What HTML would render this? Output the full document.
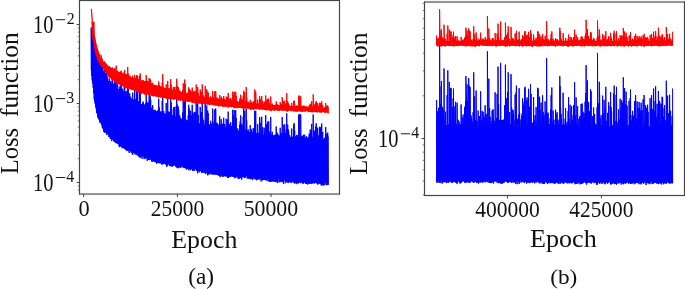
<!DOCTYPE html><html><head><meta charset="utf-8"><title>Loss function vs epoch</title><style>html,body{margin:0;padding:0;background:#fff;}svg{display:block;will-change:transform;}</style></head><body><svg width="685" height="289" viewBox="0 0 685 289">
<rect width="685" height="289" fill="#fff"/>
<path d="M91.20,69.99 91.20,27.52 91.70,76.02 91.70,30.76 92.20,80.41 92.20,31.00 92.70,83.68 92.70,36.50 93.20,87.88 93.20,39.00 93.70,93.21 93.70,41.50 94.20,99.20 94.20,44.00 94.70,101.95 94.70,46.67 95.20,104.00 95.20,49.44 95.70,107.12 95.70,52.22 96.20,109.14 96.20,55.00 96.70,112.89 96.70,56.20 97.20,113.72 97.20,57.39 97.70,116.82 97.70,58.59 98.20,118.38 98.20,59.78 98.70,119.03 98.70,60.83 99.20,119.78 99.20,61.64 99.70,122.45 99.70,62.46 100.20,122.04 100.20,63.27 100.70,122.22 100.70,64.09 101.20,123.76 101.20,64.91 101.70,124.91 101.70,67.13 102.20,127.42 102.20,66.54 102.70,128.24 102.70,69.17 103.20,128.98 103.20,70.70 103.70,131.72 103.70,71.78 104.20,130.47 104.20,72.17 104.70,132.64 104.70,70.20 105.20,132.28 105.20,74.73 105.70,132.47 105.70,73.02 106.20,132.77 106.20,73.29 106.70,134.94 106.70,76.97 107.20,133.44 107.20,76.52 107.70,133.08 107.70,80.11 108.20,134.69 108.20,81.15 108.70,136.67 108.70,81.77 109.20,134.93 109.20,78.18 109.70,136.78 109.70,81.56 110.20,138.60 110.20,82.76 110.70,138.99 110.70,80.97 111.20,138.93 111.20,82.79 111.70,141.20 111.70,84.27 112.20,139.26 112.20,78.63 112.70,139.53 112.70,81.14 113.20,138.25 113.20,85.96 113.70,140.96 113.70,83.95 114.20,142.00 114.20,84.98 114.70,141.15 114.70,80.53 115.20,141.73 115.20,82.90 115.70,142.94 115.70,88.17 116.20,143.35 116.20,81.67 116.70,142.91 116.70,89.70 117.20,143.10 117.20,88.73 117.70,143.76 117.70,84.41 118.20,142.03 118.20,90.70 118.70,144.54 118.70,89.12 119.20,146.60 119.20,91.55 119.70,147.17 119.70,87.47 120.20,144.02 120.20,85.84 120.70,146.29 120.70,89.53 121.20,146.50 121.20,84.33 121.70,146.32 121.70,92.43 122.20,148.25 122.20,88.64 122.70,146.93 122.70,90.58 123.20,148.01 123.20,91.10 123.70,148.25 123.70,92.77 124.20,147.45 124.20,86.21 124.70,148.90 124.70,86.06 125.20,148.97 125.20,93.59 125.70,149.97 125.70,91.40 126.20,149.27 126.20,96.15 126.70,150.77 126.70,91.22 127.20,150.30 127.20,92.46 127.70,150.44 127.70,87.39 128.20,150.72 128.20,88.86 128.70,149.03 128.70,96.88 129.20,152.82 129.20,96.52 129.70,152.95 129.70,93.38 130.20,151.11 130.20,98.44 130.70,149.73 130.70,96.69 131.20,151.81 131.20,98.76 131.70,153.21 131.70,99.17 132.20,149.63 132.20,99.55 132.70,155.01 132.70,92.67 133.20,152.14 133.20,99.99 133.70,152.66 133.70,99.86 134.20,152.67 134.20,99.23 134.70,153.96 134.70,89.93 135.20,154.28 135.20,101.22 135.70,154.20 135.70,99.54 136.20,154.70 136.20,98.65 136.70,153.80 136.70,90.56 137.20,155.42 137.20,93.27 137.70,154.65 137.70,91.68 138.20,155.06 138.20,102.22 138.70,156.59 138.70,101.50 139.20,155.98 139.20,102.25 139.70,156.74 139.70,91.62 140.20,158.06 140.20,91.79 140.70,155.71 140.70,104.13 141.20,156.98 141.20,104.29 141.70,155.32 141.70,104.31 142.20,158.84 142.20,104.55 142.70,155.75 142.70,102.78 143.20,155.64 143.20,101.58 143.70,156.85 143.70,105.14 144.20,159.06 144.20,106.10 144.70,158.19 144.70,104.45 145.20,156.28 145.20,105.14 145.70,158.55 145.70,103.10 146.20,157.72 146.20,93.35 146.70,157.75 146.70,101.23 147.20,160.76 147.20,104.53 147.70,159.45 147.70,103.17 148.20,159.72 148.20,102.23 148.70,159.92 148.70,108.32 149.20,158.82 149.20,94.46 149.70,160.17 149.70,100.11 150.20,159.46 150.20,96.36 150.70,157.09 150.70,99.93 151.20,159.91 151.20,107.85 151.70,161.63 151.70,108.03 152.20,159.95 152.20,109.95 152.70,161.74 152.70,105.04 153.20,160.23 153.20,110.37 153.70,161.26 153.70,110.53 154.20,161.42 154.20,110.27 154.70,161.79 154.70,110.63 155.20,162.31 155.20,109.75 155.70,160.82 155.70,111.24 156.20,162.01 156.20,111.44 156.70,163.88 156.70,111.35 157.20,162.97 157.20,111.67 157.70,161.98 157.70,110.38 158.20,162.56 158.20,112.12 158.70,162.77 158.70,98.74 159.20,163.17 159.20,107.40 159.70,163.03 159.70,112.39 160.20,163.29 160.20,112.06 160.70,163.20 160.70,111.52 161.20,162.87 161.20,111.53 161.70,164.37 161.70,113.16 162.20,164.47 162.20,100.98 162.70,162.25 162.70,97.03 163.20,162.59 163.20,111.04 163.70,164.14 163.70,110.96 164.20,162.77 164.20,114.10 164.70,163.72 164.70,114.24 165.20,163.81 165.20,113.05 165.70,164.44 165.70,113.83 166.20,163.82 166.20,102.98 166.70,166.98 166.70,114.73 167.20,165.37 167.20,115.22 167.70,165.51 167.70,98.00 168.20,163.43 168.20,111.72 168.70,163.44 168.70,115.44 169.20,165.15 169.20,111.74 169.70,165.84 169.70,116.01 170.20,165.17 170.20,112.28 170.70,166.26 170.70,98.40 171.20,162.99 171.20,102.42 171.70,166.25 171.70,109.07 172.20,166.69 172.20,115.89 172.70,163.95 172.70,115.13 173.20,165.94 173.20,116.73 173.70,165.81 173.70,107.16 174.20,165.33 174.20,113.32 174.70,163.90 174.70,107.14 175.20,164.73 175.20,116.24 175.70,166.36 175.70,117.20 176.20,167.22 176.20,106.27 176.70,166.31 176.70,99.11 177.20,168.08 177.20,104.58 177.70,165.66 177.70,106.98 178.20,168.23 178.20,106.60 178.70,164.56 178.70,109.77 179.20,166.76 179.20,118.25 179.70,167.33 179.70,115.26 180.20,167.63 180.20,117.53 180.70,168.06 180.70,119.38 181.20,166.18 181.20,119.53 181.70,165.11 181.70,118.66 182.20,167.13 182.20,118.96 182.70,166.07 182.70,112.44 183.20,167.71 183.20,100.01 183.70,166.61 183.70,117.54 184.20,167.56 184.20,100.42 184.70,167.85 184.70,100.24 185.20,168.19 185.20,100.32 185.70,167.44 185.70,118.99 186.20,169.53 186.20,120.26 186.70,167.68 186.70,120.33 187.20,168.31 187.20,120.61 187.70,169.09 187.70,120.69 188.20,168.69 188.20,115.49 188.70,170.24 188.70,104.76 189.20,168.77 189.20,108.55 189.70,168.57 189.70,118.46 190.20,170.25 190.20,115.27 190.70,169.78 190.70,110.75 191.20,168.51 191.20,121.93 191.70,168.98 191.70,115.42 192.20,169.81 192.20,104.81 192.70,171.04 192.70,111.89 193.20,170.65 193.20,113.16 193.70,169.97 193.70,119.38 194.20,167.58 194.20,122.28 194.70,170.76 194.70,112.08 195.20,168.97 195.20,121.44 195.70,168.72 195.70,111.83 196.20,169.75 196.20,102.06 196.70,170.69 196.70,121.12 197.20,170.74 197.20,121.17 197.70,173.34 197.70,102.30 198.20,170.66 198.20,115.11 198.70,170.18 198.70,123.33 199.20,172.27 199.20,123.61 199.70,171.36 199.70,123.64 200.20,170.83 200.20,107.00 200.70,170.48 200.70,112.68 201.20,171.44 201.20,123.93 201.70,173.09 201.70,111.95 202.20,172.35 202.20,102.87 202.70,171.48 202.70,117.83 203.20,172.80 203.20,122.89 203.70,172.20 203.70,120.28 204.20,170.78 204.20,124.49 204.70,172.94 204.70,124.79 205.20,172.88 205.20,103.24 205.70,174.10 205.70,118.52 206.20,172.43 206.20,121.09 206.70,171.43 206.70,105.46 207.20,173.45 207.20,122.62 207.70,175.36 207.70,110.53 208.20,172.21 208.20,113.05 208.70,174.73 208.70,124.89 209.20,173.20 209.20,124.72 209.70,173.92 209.70,124.50 210.20,173.37 210.20,124.97 210.70,172.58 210.70,120.75 211.20,174.64 211.20,125.01 211.70,173.27 211.70,123.57 212.20,173.96 212.20,125.85 212.70,174.42 212.70,108.66 213.20,172.56 213.20,124.55 213.70,174.65 213.70,123.40 214.20,174.53 214.20,121.40 214.70,173.89 214.70,109.47 215.20,173.60 215.20,124.15 215.70,174.65 215.70,108.52 216.20,174.84 216.20,123.19 216.70,174.28 216.70,122.79 217.20,174.78 217.20,123.03 217.70,174.63 217.70,127.04 218.20,172.92 218.20,124.47 218.70,176.00 218.70,126.82 219.20,175.96 219.20,127.36 219.70,173.74 219.70,116.32 220.20,177.22 220.20,127.18 220.70,174.94 220.70,124.53 221.20,174.74 221.20,119.27 221.70,175.69 221.70,123.39 222.20,176.73 222.20,126.56 222.70,174.63 222.70,124.26 223.20,176.80 223.20,123.72 223.70,175.72 223.70,117.76 224.20,174.80 224.20,128.24 224.70,176.25 224.70,123.95 225.20,175.36 225.20,127.78 225.70,176.25 225.70,127.69 226.20,176.58 226.20,118.75 226.70,175.84 226.70,125.27 227.20,174.39 227.20,124.45 227.70,177.93 227.70,119.51 228.20,177.81 228.20,111.63 228.70,177.84 228.70,126.62 229.20,176.32 229.20,123.86 229.70,177.03 229.70,125.93 230.20,176.98 230.20,125.93 230.70,174.55 230.70,122.23 231.20,175.99 231.20,127.02 231.70,176.46 231.70,125.90 232.20,175.43 232.20,126.87 232.70,176.59 232.70,109.76 233.20,177.05 233.20,122.57 233.70,176.21 233.70,115.41 234.20,175.18 234.20,109.99 234.70,178.24 234.70,129.64 235.20,177.69 235.20,126.13 235.70,176.93 235.70,110.17 236.20,177.43 236.20,117.95 236.70,175.26 236.70,130.66 237.20,177.14 237.20,130.81 237.70,177.00 237.70,128.43 238.20,179.06 238.20,131.13 238.70,177.90 238.70,130.54 239.20,177.02 239.20,131.32 239.70,178.80 239.70,124.65 240.20,177.92 240.20,121.20 240.70,176.70 240.70,115.45 241.20,176.94 241.20,131.47 241.70,179.83 241.70,123.78 242.20,176.81 242.20,125.38 242.70,176.92 242.70,131.80 243.20,177.31 243.20,116.94 243.70,176.69 243.70,108.54 244.20,177.58 244.20,131.73 244.70,177.73 244.70,110.85 245.20,177.77 245.20,130.43 245.70,175.52 245.70,129.37 246.20,176.20 246.20,109.07 246.70,176.06 246.70,120.45 247.20,178.62 247.20,132.60 247.70,178.06 247.70,130.52 248.20,175.52 248.20,129.43 248.70,178.44 248.70,131.70 249.20,179.04 249.20,132.78 249.70,177.87 249.70,132.00 250.20,178.19 250.20,125.15 250.70,179.31 250.70,133.43 251.20,176.01 251.20,129.15 251.70,178.44 251.70,130.92 252.20,179.14 252.20,133.59 252.70,180.09 252.70,132.21 253.20,178.37 253.20,127.99 253.70,176.70 253.70,130.12 254.20,178.81 254.20,133.76 254.70,177.32 254.70,110.72 255.20,178.33 255.20,123.45 255.70,179.57 255.70,110.90 256.20,177.73 256.20,133.90 256.70,180.25 256.70,133.18 257.20,179.56 257.20,134.12 257.70,179.35 257.70,124.08 258.20,179.11 258.20,133.31 258.70,178.40 258.70,134.10 259.20,179.45 259.20,131.97 259.70,179.38 259.70,117.18 260.20,178.49 260.20,122.73 260.70,179.10 260.70,133.67 261.20,181.51 261.20,134.30 261.70,179.25 261.70,116.74 262.20,180.35 262.20,130.05 262.70,179.57 262.70,127.15 263.20,180.08 263.20,134.70 263.70,179.97 263.70,134.82 264.20,178.23 264.20,127.64 264.70,179.88 264.70,132.54 265.20,179.23 265.20,134.95 265.70,180.21 265.70,115.26 266.20,178.82 266.20,129.15 266.70,180.77 266.70,124.14 267.20,179.36 267.20,135.11 267.70,178.70 267.70,121.65 268.20,181.07 268.20,135.23 268.70,179.07 268.70,121.38 269.20,181.72 269.20,132.58 269.70,181.70 269.70,133.91 270.20,180.08 270.20,131.14 270.70,181.73 270.70,116.90 271.20,179.39 271.20,134.62 271.70,181.76 271.70,135.38 272.20,180.87 272.20,131.76 272.70,181.40 272.70,134.95 273.20,180.76 273.20,135.57 273.70,181.37 273.70,135.44 274.20,181.82 274.20,135.78 274.70,180.02 274.70,135.34 275.20,180.48 275.20,134.63 275.70,181.89 275.70,134.74 276.20,182.23 276.20,126.55 276.70,181.04 276.70,134.94 277.20,181.36 277.20,132.62 277.70,183.01 277.70,135.72 278.20,179.48 278.20,134.59 278.70,178.75 278.70,136.21 279.20,182.21 279.20,135.45 279.70,182.01 279.70,136.30 280.20,182.17 280.20,127.78 280.70,179.66 280.70,132.10 281.20,181.67 281.20,135.97 281.70,181.31 281.70,133.39 282.20,181.35 282.20,117.10 282.70,182.01 282.70,136.42 283.20,182.55 283.20,124.85 283.70,184.08 283.70,134.13 284.20,179.62 284.20,133.31 284.70,180.50 284.70,124.25 285.20,180.29 285.20,134.71 285.70,183.16 285.70,133.25 286.20,181.01 286.20,129.59 286.70,182.03 286.70,113.34 287.20,182.23 287.20,135.39 287.70,179.47 287.70,124.61 288.20,182.94 288.20,129.24 288.70,182.74 288.70,131.08 289.20,181.43 289.20,134.92 289.70,181.50 289.70,135.56 290.20,181.63 290.20,137.15 290.70,182.45 290.70,137.01 291.20,182.29 291.20,137.20 291.70,182.84 291.70,128.51 292.20,180.96 292.20,136.51 292.70,181.32 292.70,137.05 293.20,182.25 293.20,137.34 293.70,182.38 293.70,124.69 294.20,181.57 294.20,123.14 294.70,183.63 294.70,130.76 295.20,182.68 295.20,136.57 295.70,183.16 295.70,136.89 296.20,182.91 296.20,136.57 296.70,184.14 296.70,134.86 297.20,182.12 297.20,137.45 297.70,182.39 297.70,135.13 298.20,183.33 298.20,136.96 298.70,183.16 298.70,114.98 299.20,181.23 299.20,113.93 299.70,182.18 299.70,133.77 300.20,183.16 300.20,137.25 300.70,183.01 300.70,114.46 301.20,182.38 301.20,136.83 301.70,181.79 301.70,136.43 302.20,182.61 302.20,138.13 302.70,183.66 302.70,136.24 303.20,183.68 303.20,135.12 303.70,182.63 303.70,134.74 304.20,182.06 304.20,137.74 304.70,182.57 304.70,134.77 305.20,181.25 305.20,138.31 305.70,184.01 305.70,137.44 306.20,183.98 306.20,138.27 306.70,183.02 306.70,136.28 307.20,183.58 307.20,138.41 307.70,184.60 307.70,138.45 308.20,183.13 308.20,137.29 308.70,183.22 308.70,137.83 309.20,183.98 309.20,133.64 309.70,182.54 309.70,134.68 310.20,183.60 310.20,129.52 310.70,182.26 310.70,132.17 311.20,184.02 311.20,130.65 311.70,182.47 311.70,123.83 312.20,183.32 312.20,136.72 312.70,183.40 312.70,137.38 313.20,181.91 313.20,114.54 313.70,182.83 313.70,138.54 314.20,183.67 314.20,130.60 314.70,183.09 314.70,132.76 315.20,182.65 315.20,138.89 315.70,182.69 315.70,126.49 316.20,182.81 316.20,123.26 316.70,183.38 316.70,133.24 317.20,183.16 317.20,130.48 317.70,184.61 317.70,127.66 318.20,183.87 318.20,138.84 318.70,183.24 318.70,135.32 319.20,181.67 319.20,135.65 319.70,183.60 319.70,126.75 320.20,184.16 320.20,128.13 320.70,183.39 320.70,127.22 321.20,185.22 321.20,134.40 321.70,185.28 321.70,123.55 322.20,184.72 322.20,132.24 322.70,183.43 322.70,132.00 323.20,185.77 323.20,138.71 323.70,184.39 323.70,139.41 324.20,182.00 324.20,139.23 324.70,185.07 324.70,137.78 325.20,182.33 325.20,139.37 325.70,182.43 325.70,127.09 326.20,184.66 326.20,135.18 326.70,185.22 326.70,133.84 327.20,183.94 327.20,133.90 327.70,184.78 327.70,132.64 328.20,184.86 328.20,136.42" fill="none" stroke="#0000ff" stroke-width="1.0" stroke-linejoin="round" stroke-linecap="butt"/>
<path d="M92.20,31.92 92.20,21.55 92.70,36.61 92.70,27.49 93.20,39.96 93.20,29.41 93.70,41.91 93.70,32.25 94.20,44.77 94.20,34.99 94.70,47.28 94.70,37.31 95.20,50.85 95.20,41.00 95.70,52.94 95.70,43.84 96.20,55.51 96.20,47.35 96.70,56.02 96.70,48.94 97.20,57.67 97.20,50.20 97.70,60.11 97.70,50.33 98.20,60.61 98.20,53.36 98.70,61.93 98.70,54.61 99.20,62.70 99.20,55.09 99.70,62.39 99.70,54.01 100.20,63.66 100.20,57.22 100.70,64.51 100.70,58.19 101.20,65.99 101.20,55.31 101.70,65.86 101.70,59.79 102.20,66.88 102.20,58.67 102.70,67.59 102.70,60.86 103.20,68.16 103.20,61.47 103.70,69.24 103.70,62.00 104.20,70.12 104.20,62.38 104.70,70.38 104.70,61.36 105.20,71.14 105.20,63.51 105.70,72.34 105.70,63.40 106.20,73.84 106.20,63.72 106.70,73.83 106.70,64.85 107.20,73.91 107.20,65.00 107.70,75.43 107.70,66.14 108.20,76.43 108.20,66.65 108.70,76.78 108.70,67.02 109.20,77.12 109.20,66.15 109.70,77.14 109.70,67.26 110.20,77.81 110.20,67.77 110.70,77.54 110.70,67.48 111.20,78.69 111.20,68.16 111.70,79.54 111.70,68.75 112.20,79.41 112.20,67.30 112.70,80.32 112.70,68.24 113.20,80.39 113.20,69.77 113.70,80.47 113.70,69.40 114.20,80.16 114.20,69.87 114.70,81.69 114.70,67.95 115.20,81.71 115.20,69.62 115.70,81.01 115.70,71.32 116.20,83.12 116.20,65.52 116.70,83.29 116.70,72.11 117.20,83.69 117.20,71.97 117.70,84.01 117.70,70.76 118.20,83.42 118.20,72.71 118.70,83.82 118.70,72.35 119.20,83.64 119.20,73.13 119.70,84.76 119.70,72.02 120.20,84.37 120.20,71.59 120.70,85.75 120.70,72.81 121.20,84.63 121.20,70.71 121.70,85.62 121.70,73.84 122.20,86.18 122.20,72.77 122.70,85.84 122.70,73.45 123.20,85.84 123.20,73.70 123.70,85.67 123.70,74.29 124.20,87.09 124.20,72.23 124.70,87.24 124.70,70.24 125.20,87.80 125.20,74.79 125.70,87.01 125.70,74.20 126.20,88.31 126.20,75.79 126.70,88.00 126.70,74.38 127.20,88.27 127.20,74.85 127.70,88.29 127.70,66.95 128.20,88.00 128.20,73.77 128.70,88.29 128.70,76.47 129.20,89.11 129.20,76.44 129.70,88.64 129.70,75.51 130.20,88.99 130.20,77.18 130.70,89.17 130.70,76.72 131.20,89.49 131.20,77.44 131.70,90.09 131.70,77.65 132.20,89.28 132.20,77.84 132.70,89.99 132.70,75.65 133.20,89.74 133.20,78.14 133.70,90.16 133.70,78.17 134.20,90.04 134.20,78.05 134.70,89.76 134.70,74.83 135.20,90.50 135.20,78.83 135.70,90.16 135.70,78.36 136.20,91.77 136.20,78.14 136.70,90.54 136.70,75.12 137.20,91.11 137.20,76.33 137.70,91.69 137.70,75.76 138.20,91.53 138.20,79.60 138.70,92.57 138.70,79.43 139.20,92.01 139.20,79.75 139.70,91.51 139.70,75.87 140.20,92.95 140.20,73.40 140.70,92.41 140.70,80.58 141.20,94.20 141.20,80.69 141.70,92.39 141.70,80.78 142.20,92.71 142.20,80.94 142.70,93.11 142.70,80.42 143.20,92.65 143.20,80.08 143.70,93.68 143.70,81.38 144.20,94.18 144.20,81.78 144.70,94.45 144.70,81.31 145.20,93.97 145.20,81.62 145.70,93.80 145.70,80.99 146.20,94.66 146.20,75.14 146.70,94.73 146.70,80.46 147.20,94.13 147.20,81.73 147.70,94.10 147.70,81.32 148.20,94.08 148.20,81.04 148.70,94.71 148.70,83.26 149.20,94.71 149.20,78.06 149.70,95.24 149.70,80.44 150.20,95.52 150.20,78.98 150.70,94.54 150.70,80.50 151.20,95.46 151.20,83.50 151.70,95.55 151.70,83.64 152.20,95.31 152.20,84.39 152.70,95.70 152.70,82.77 153.20,96.44 153.20,84.75 153.70,95.88 153.70,84.91 154.20,95.98 154.20,84.93 154.70,95.93 154.70,85.15 155.20,96.36 155.20,84.95 155.70,96.05 155.70,85.54 156.20,96.65 156.20,85.70 156.70,95.89 156.70,85.77 157.20,96.23 157.20,85.97 157.70,96.86 157.70,85.63 158.20,97.43 158.20,86.31 158.70,96.59 158.70,81.36 159.20,96.99 159.20,84.85 159.70,97.39 159.70,86.67 160.20,97.00 160.20,86.66 160.70,97.38 160.70,86.57 161.20,97.52 161.20,86.67 161.70,96.78 161.70,87.30 162.20,96.76 162.20,82.90 162.70,97.73 162.70,74.09 163.20,97.23 163.20,86.87 163.70,97.82 163.70,86.94 164.20,98.00 164.20,88.09 164.70,97.63 164.70,88.23 165.20,97.61 165.20,87.93 165.70,97.79 165.70,88.28 166.20,98.89 166.20,84.41 166.70,97.31 166.70,88.76 167.20,98.91 167.20,89.02 167.70,98.56 167.70,80.91 168.20,98.32 168.20,88.04 168.70,98.88 168.70,89.35 169.20,98.73 169.20,88.18 169.70,98.38 169.70,89.66 170.20,98.84 170.20,88.48 170.70,99.01 170.70,79.02 171.20,99.23 171.20,84.83 171.70,99.13 171.70,87.50 172.20,99.10 172.20,89.94 172.70,98.10 172.70,89.75 173.20,98.92 173.20,90.34 173.70,99.56 173.70,86.95 174.20,99.67 174.20,89.30 174.70,99.01 174.70,87.03 175.20,99.16 175.20,90.42 175.70,99.01 175.70,90.81 176.20,98.94 176.20,86.81 176.70,99.90 176.70,78.74 177.20,100.15 177.20,86.18 177.70,99.78 177.70,87.22 178.20,100.04 178.20,87.11 178.70,100.62 178.70,88.43 179.20,99.45 179.20,91.59 179.70,100.05 179.70,90.60 180.20,100.08 180.20,91.46 180.70,100.67 180.70,92.16 181.20,99.60 181.20,92.28 181.70,99.57 181.70,92.04 182.20,100.63 182.20,92.21 182.70,100.19 182.70,89.87 183.20,100.71 183.20,83.30 183.70,100.97 183.70,91.89 184.20,100.99 184.20,84.73 184.70,101.28 184.70,79.55 185.20,101.03 185.20,83.80 185.70,101.00 185.70,92.70 186.20,100.31 186.20,93.22 186.70,101.60 186.70,93.33 187.20,100.59 187.20,93.50 187.70,101.25 187.70,93.60 188.20,102.03 188.20,91.76 188.70,100.67 188.70,87.24 189.20,101.90 189.20,89.01 189.70,101.25 189.70,93.10 190.20,101.66 190.20,91.94 190.70,100.98 190.70,90.15 191.20,100.86 191.20,94.58 191.70,102.16 191.70,92.21 192.20,103.04 192.20,87.63 192.70,102.50 192.70,90.89 193.20,102.23 193.20,91.49 193.70,102.34 193.70,94.03 194.20,103.17 194.20,95.16 194.70,103.20 194.70,91.22 195.20,102.22 195.20,95.01 195.70,102.11 195.70,91.24 196.20,103.57 196.20,84.55 196.70,102.57 196.70,95.12 197.20,103.15 197.20,95.21 197.70,103.49 197.70,87.00 198.20,102.58 198.20,92.95 198.70,102.77 198.70,96.19 199.20,102.40 199.20,96.35 199.70,103.71 199.70,96.42 200.20,103.14 200.20,89.51 200.70,103.69 200.70,92.14 201.20,102.69 201.20,96.69 201.70,103.74 201.70,91.89 202.20,103.05 202.20,84.39 202.70,103.43 202.70,94.48 203.20,102.95 203.20,96.51 203.70,103.53 203.70,95.55 204.20,104.04 204.20,97.20 204.70,103.64 204.70,97.37 205.20,103.70 205.20,86.02 205.70,104.14 205.70,95.02 206.20,103.82 206.20,96.10 206.70,104.27 206.70,89.07 207.20,104.14 207.20,96.80 207.70,104.57 207.70,91.62 208.20,104.02 208.20,92.83 208.70,104.36 208.70,97.81 209.20,104.44 209.20,97.80 209.70,105.15 209.70,97.77 210.20,104.67 210.20,97.99 210.70,104.02 210.70,96.37 211.20,104.02 211.20,98.11 211.70,104.65 211.70,97.60 212.20,104.54 212.20,98.53 212.70,104.39 212.70,91.00 213.20,104.60 213.20,98.13 213.70,105.30 213.70,97.72 214.20,104.13 214.20,96.96 214.70,105.18 214.70,91.51 215.20,104.99 215.20,98.16 215.70,105.91 215.70,91.09 216.20,104.41 216.20,97.87 216.70,105.52 216.70,97.75 217.20,105.27 217.20,97.89 217.70,105.48 217.70,99.52 218.20,105.72 218.20,98.55 218.70,106.49 218.70,99.52 219.20,105.82 219.20,99.77 219.70,105.94 219.70,95.10 220.20,105.08 220.20,99.79 220.70,106.12 220.70,98.77 221.20,105.23 221.20,96.54 221.70,105.87 221.70,98.37 222.20,106.21 222.20,99.71 222.70,106.73 222.70,98.81 223.20,106.60 223.20,98.62 223.70,106.30 223.70,96.00 224.20,106.66 224.20,100.55 224.70,106.21 224.70,98.83 225.20,106.41 225.20,100.44 225.70,106.40 225.70,100.42 226.20,106.87 226.20,96.53 226.70,106.41 226.70,99.44 227.20,106.09 227.20,99.10 227.70,106.05 227.70,96.87 228.20,107.82 228.20,92.91 228.70,105.72 228.70,100.04 229.20,106.72 229.20,98.85 229.70,106.70 229.70,99.76 230.20,106.76 230.20,99.76 230.70,106.43 230.70,98.10 231.20,107.21 231.20,100.25 231.70,107.05 231.70,99.76 232.20,106.57 232.20,100.19 232.70,106.90 232.70,91.64 233.20,106.53 233.20,98.25 233.70,107.38 233.70,94.67 234.20,108.19 234.20,91.69 234.70,108.04 234.70,101.44 235.20,107.81 235.20,99.91 235.70,107.37 235.70,91.76 236.20,107.43 236.20,95.98 236.70,107.70 236.70,101.93 237.20,108.31 237.20,102.01 237.70,107.59 237.70,101.00 238.20,107.59 238.20,102.17 238.70,107.06 238.70,101.93 239.20,107.72 239.20,102.28 239.70,107.83 239.70,99.34 240.20,107.47 240.20,97.69 240.70,107.37 240.70,94.75 241.20,107.89 241.20,102.40 241.70,108.11 241.70,98.97 242.20,107.63 242.20,99.73 242.70,108.40 242.70,102.58 243.20,107.92 243.20,95.58 243.70,108.28 243.70,90.72 244.20,108.91 244.20,102.59 244.70,107.96 244.70,92.26 245.20,108.25 245.20,102.07 245.70,108.16 245.70,101.62 246.20,108.19 246.20,87.05 246.70,108.57 246.70,97.45 247.20,107.69 247.20,103.04 247.70,108.65 247.70,102.18 248.20,107.85 248.20,101.72 248.70,108.27 248.70,102.71 249.20,109.02 249.20,103.20 249.70,107.84 249.70,102.90 250.20,109.36 250.20,99.88 250.70,109.64 250.70,103.54 251.20,109.31 251.20,101.73 251.70,109.14 251.70,102.52 252.20,108.89 252.20,103.65 252.70,108.77 252.70,103.09 253.20,109.96 253.20,101.28 253.70,108.43 253.70,102.24 254.20,108.95 254.20,103.78 254.70,109.25 254.70,89.36 255.20,108.77 255.20,99.24 255.70,108.44 255.70,91.66 256.20,109.22 256.20,103.90 256.70,109.13 256.70,103.62 257.20,108.30 257.20,104.02 257.70,108.88 257.70,99.62 258.20,108.82 258.20,103.72 258.70,109.09 258.70,104.05 259.20,109.51 259.20,103.20 259.70,109.69 259.70,96.25 260.20,108.70 260.20,99.06 260.70,109.33 260.70,103.94 261.20,109.07 261.20,104.22 261.70,108.60 261.70,96.09 262.20,109.76 262.20,102.48 262.70,109.23 262.70,101.22 263.20,109.37 263.20,104.44 263.70,108.51 263.70,104.50 264.20,109.80 264.20,101.49 264.70,109.61 264.70,103.61 265.20,109.94 265.20,104.60 265.70,109.39 265.70,95.45 266.20,110.40 266.20,102.23 266.70,109.85 266.70,99.97 267.20,109.47 267.20,104.73 267.70,109.95 267.70,98.82 268.20,110.08 268.20,104.81 268.70,109.51 268.70,98.72 269.20,110.36 269.20,103.78 269.70,110.08 269.70,104.34 270.20,110.25 270.20,103.22 270.70,110.41 270.70,96.54 271.20,111.19 271.20,104.67 271.70,109.92 271.70,104.99 272.20,109.75 272.20,103.55 272.70,110.23 272.70,104.85 273.20,109.98 273.20,105.11 273.70,108.99 273.70,105.08 274.20,111.04 274.20,105.23 274.70,110.34 274.70,105.07 275.20,109.36 275.20,104.82 275.70,109.86 275.70,104.87 276.20,110.32 276.20,101.45 276.70,110.06 276.70,104.99 277.20,110.06 277.20,104.08 277.70,110.40 277.70,105.32 278.20,110.77 278.20,104.90 278.70,110.81 278.70,105.55 279.20,110.45 279.20,105.27 279.70,110.57 279.70,105.61 280.20,109.66 280.20,102.15 280.70,109.72 280.70,104.00 281.20,110.45 281.20,105.54 281.70,110.21 281.70,104.56 282.20,110.57 282.20,97.14 282.70,110.13 282.70,105.77 283.20,110.25 283.20,100.95 283.70,110.52 283.70,104.92 284.20,109.52 284.20,104.62 284.70,110.05 284.70,100.74 285.20,110.94 285.20,105.21 285.70,110.69 285.70,104.65 286.20,110.19 286.20,103.17 286.70,110.85 286.70,93.12 287.20,111.56 287.20,105.54 287.70,111.42 287.70,101.04 288.20,110.23 288.20,103.10 288.70,110.55 288.70,103.89 289.20,109.94 289.20,105.44 289.70,110.59 289.70,105.70 290.20,110.28 290.20,106.31 290.70,110.54 290.70,106.28 291.20,111.10 291.20,106.36 291.70,110.85 291.70,102.90 292.20,110.86 292.20,106.13 292.70,110.28 292.70,106.34 293.20,111.49 293.20,106.45 293.70,110.93 293.70,101.24 294.20,110.43 294.20,100.52 294.70,111.13 294.70,103.90 295.20,111.68 295.20,106.20 295.70,110.51 295.70,106.33 296.20,111.39 296.20,106.22 296.70,110.59 296.70,105.58 297.20,111.65 297.20,106.57 297.70,111.55 297.70,105.70 298.20,111.15 298.20,106.40 298.70,110.82 298.70,96.50 299.20,110.61 299.20,95.43 299.70,110.91 299.70,105.20 300.20,111.75 300.20,106.54 300.70,111.53 300.70,96.26 301.20,111.40 301.20,106.42 301.70,111.15 301.70,106.28 302.20,111.38 302.20,106.92 302.70,111.72 302.70,106.23 303.20,110.34 303.20,105.82 303.70,111.30 303.70,105.69 304.20,111.52 304.20,106.83 304.70,111.01 304.70,105.72 305.20,111.31 305.20,107.07 305.70,111.49 305.70,106.76 306.20,111.05 306.20,107.08 306.70,111.05 306.70,106.36 307.20,110.96 307.20,107.16 307.70,111.19 307.70,107.19 308.20,111.65 308.20,106.78 308.70,112.07 308.70,106.99 309.20,111.65 309.20,105.40 309.70,111.59 309.70,105.82 310.20,111.35 310.20,103.73 310.70,111.85 310.70,104.85 311.20,111.60 311.20,104.23 311.70,112.34 311.70,101.23 312.20,111.85 312.20,106.67 312.70,112.29 312.70,106.93 313.20,112.08 313.20,94.40 313.70,111.89 313.70,107.38 314.20,112.03 314.20,104.29 314.70,111.55 314.70,105.19 315.20,112.28 315.20,107.55 315.70,111.90 315.70,102.54 316.20,111.63 316.20,101.07 316.70,112.06 316.70,105.44 317.20,112.47 317.20,104.32 317.70,112.07 317.70,103.12 318.20,110.97 318.20,107.61 318.70,111.83 318.70,106.31 319.20,112.14 319.20,106.45 319.70,112.38 319.70,102.76 320.20,111.77 320.20,103.39 320.70,112.33 320.70,103.00 321.20,112.54 321.20,106.02 321.70,112.46 321.70,101.34 322.20,111.43 322.20,105.18 322.70,111.98 322.70,105.09 323.20,111.95 323.20,107.70 323.70,112.06 323.70,107.97 324.20,112.28 324.20,107.92 324.70,112.89 324.70,107.40 325.20,112.36 325.20,107.99 325.70,111.89 325.70,103.07 326.20,111.80 326.20,106.45 326.70,112.75 326.70,105.94 327.20,112.03 327.20,105.98 327.70,112.40 327.70,105.48 328.20,113.20 328.20,106.99" fill="none" stroke="#ff0000" stroke-width="1.0" stroke-linejoin="round" stroke-linecap="butt"/>
<path d="M90.9,9.2 L91.4,8.4 L91.9,9 L92.5,15 L92.9,21.5 L94.6,22 L94.8,36 L97,46 L100.1,56 L96.3,56 L94.4,46 L92.4,36 L92.3,23 L91.6,21 L91,12 Z" fill="#ff0000"/>
<path d="M436.60,182.67 436.60,100.16 437.10,182.25 437.10,124.77 437.60,182.45 437.60,111.46 438.10,181.31 438.10,125.00 438.60,180.79 438.60,107.83 439.10,182.93 439.10,112.24 439.60,180.59 439.60,30.00 440.10,182.88 440.10,114.05 440.60,182.54 440.60,103.78 441.10,181.05 441.10,86.43 441.40,180.51 441.40,81.00 442.10,183.62 442.10,108.46 442.60,182.86 442.60,106.79 443.10,180.52 443.10,109.42 443.60,181.55 443.60,115.85 444.00,182.45 444.00,68.50 444.60,181.95 444.60,120.60 445.10,181.75 445.10,121.14 445.60,182.20 445.60,111.74 446.10,181.56 446.10,126.04 446.60,183.11 446.60,125.05 447.10,180.69 447.10,95.03 447.80,181.64 447.80,70.40 448.10,182.86 448.10,125.74 448.60,182.27 448.60,124.10 449.30,180.61 449.30,82.00 449.60,181.69 449.60,124.74 450.10,181.34 450.10,120.50 450.60,180.13 450.60,88.37 451.10,182.58 451.10,87.81 451.60,181.79 451.60,126.35 452.10,182.88 452.10,121.06 452.60,181.01 452.60,107.02 453.10,182.46 453.10,98.41 453.50,179.92 453.50,88.50 454.10,181.97 454.10,106.27 454.60,181.87 454.60,124.00 455.10,179.23 455.10,111.16 455.60,182.56 455.60,101.80 456.10,182.60 456.10,125.71 456.60,182.97 456.60,124.21 457.10,184.09 457.10,102.71 457.60,181.84 457.60,125.54 458.10,181.20 458.10,119.86 458.60,181.47 458.60,124.07 459.10,180.76 459.10,121.36 459.60,182.39 459.60,125.58 460.10,183.55 460.10,124.16 460.60,183.16 460.60,124.84 461.10,182.61 461.10,104.47 461.60,182.06 461.60,121.96 462.10,181.37 462.10,117.45 462.60,181.52 462.60,123.16 463.10,179.68 463.10,114.50 463.60,181.33 463.60,125.43 464.10,180.82 464.10,118.20 464.60,182.67 464.60,107.69 465.10,181.39 465.10,106.29 465.60,182.86 465.60,101.00 465.90,183.04 465.90,76.00 466.60,181.76 466.60,95.14 467.00,181.34 467.00,84.30 467.60,182.28 467.60,101.31 468.10,181.63 468.10,116.22 468.70,181.73 468.70,78.00 469.10,182.98 469.10,117.72 469.40,182.64 469.40,85.70 470.10,180.60 470.10,87.04 470.60,182.39 470.60,124.86 471.10,180.70 471.10,115.49 471.60,181.07 471.60,118.44 472.10,181.65 472.10,121.29 472.60,182.14 472.60,124.86 473.10,180.95 473.10,112.20 473.70,182.87 473.70,72.30 474.10,182.42 474.10,126.47 474.60,180.85 474.60,96.43 475.10,181.30 475.10,120.59 475.60,181.47 475.60,120.57 476.10,182.16 476.10,90.51 476.60,182.70 476.60,119.91 477.10,182.88 477.10,121.71 477.60,180.45 477.60,126.08 478.10,182.52 478.10,110.58 478.60,183.55 478.60,126.75 479.10,182.48 479.10,116.82 479.60,181.08 479.60,116.01 480.10,180.53 480.10,125.63 480.60,182.50 480.60,91.37 481.10,181.87 481.10,122.58 481.60,182.06 481.60,120.31 482.10,182.33 482.10,110.88 482.60,182.44 482.60,125.14 483.10,182.06 483.10,111.88 483.60,182.13 483.60,115.69 484.10,179.44 484.10,117.28 484.60,181.07 484.60,123.86 485.10,182.44 485.10,105.21 485.60,181.25 485.60,114.38 486.10,180.96 486.10,113.92 486.60,181.88 486.60,118.17 487.10,181.04 487.10,124.68 487.40,181.37 487.40,51.30 488.10,182.48 488.10,124.69 488.80,180.95 488.80,78.70 489.10,182.38 489.10,116.60 489.60,182.84 489.60,108.02 490.10,181.67 490.10,116.69 490.60,182.82 490.60,126.66 491.10,183.11 491.10,121.02 491.60,182.71 491.60,124.21 492.10,180.09 492.10,110.60 492.60,182.37 492.60,110.10 493.10,180.98 493.10,109.30 493.60,183.58 493.60,119.18 494.10,178.60 494.10,120.54 494.60,180.87 494.60,124.10 495.10,181.68 495.10,92.35 495.60,181.24 495.60,122.69 496.10,180.64 496.10,125.47 496.60,181.54 496.60,117.90 497.10,182.87 497.10,93.90 497.60,181.05 497.60,109.35 498.00,180.25 498.00,66.60 498.60,183.22 498.60,104.03 499.10,180.80 499.10,125.95 499.60,183.02 499.60,119.87 500.10,180.30 500.10,121.11 500.60,182.53 500.60,62.80 501.10,183.97 501.10,125.79 501.60,181.63 501.60,119.97 502.10,183.32 502.10,120.10 502.60,183.43 502.60,120.34 503.10,182.92 503.10,122.05 503.60,182.59 503.60,119.49 504.10,180.95 504.10,121.67 504.60,182.37 504.60,105.29 505.10,181.21 505.10,121.33 505.40,180.22 505.40,64.70 506.10,181.95 506.10,123.66 506.60,180.65 506.60,98.40 507.10,181.62 507.10,103.51 507.60,183.01 507.60,91.86 508.20,182.88 508.20,72.30 508.60,181.83 508.60,125.85 509.10,180.89 509.10,121.05 509.60,182.02 509.60,111.97 510.10,178.82 510.10,124.62 510.60,181.25 510.60,124.14 511.00,182.60 511.00,74.20 511.60,182.21 511.60,107.39 512.10,182.68 512.10,109.43 512.60,180.34 512.60,113.89 513.10,180.81 513.10,110.15 513.60,182.34 513.60,114.22 514.10,182.31 514.10,120.71 514.60,182.00 514.60,126.11 515.10,182.58 515.10,94.68 515.60,183.96 515.60,118.59 516.10,181.40 516.10,92.25 516.40,181.27 516.40,85.60 517.10,184.19 517.10,124.46 517.60,180.02 517.60,118.83 518.10,180.93 518.10,125.91 518.60,182.22 518.60,114.79 519.10,184.01 519.10,88.23 519.60,181.38 519.60,112.64 520.10,182.57 520.10,119.35 520.60,180.21 520.60,126.16 521.10,179.79 521.10,126.74 521.60,182.29 521.60,115.72 522.10,182.11 522.10,113.55 522.60,181.51 522.60,98.45 523.10,180.49 523.10,120.78 523.60,182.28 523.60,105.28 524.10,181.85 524.10,101.75 524.60,183.08 524.60,88.45 525.10,181.81 525.10,86.76 525.60,181.30 525.60,121.74 526.10,181.97 526.10,99.94 526.60,183.61 526.60,126.55 527.10,181.83 527.10,97.39 527.60,182.57 527.60,125.25 528.10,182.30 528.10,100.39 528.60,181.82 528.60,88.81 529.10,183.16 529.10,122.61 529.60,182.95 529.60,106.66 530.10,182.56 530.10,122.95 530.50,180.51 530.50,84.00 531.10,182.50 531.10,93.97 531.60,181.34 531.60,123.94 532.10,180.50 532.10,122.46 532.60,182.95 532.60,125.06 533.10,181.60 533.10,122.86 533.60,181.81 533.60,97.10 534.10,182.11 534.10,120.39 534.60,183.40 534.60,122.36 535.10,181.82 535.10,115.26 535.60,181.79 535.60,126.09 536.10,182.69 536.10,107.21 536.60,181.09 536.60,126.52 537.10,182.12 537.10,122.55 537.60,181.25 537.60,87.80 538.10,181.56 538.10,88.33 538.60,182.02 538.60,120.93 539.10,183.22 539.10,124.55 539.60,181.72 539.60,96.75 540.10,183.35 540.10,109.84 540.60,181.60 540.60,122.85 541.10,182.26 541.10,102.60 541.60,182.10 541.60,125.13 542.10,183.49 542.10,116.06 542.60,182.17 542.60,95.24 543.10,183.83 543.10,111.93 543.60,183.85 543.60,118.82 544.10,182.93 544.10,114.51 544.60,183.87 544.60,121.57 545.10,181.91 545.10,101.34 545.60,181.14 545.60,124.28 546.10,182.16 546.10,111.77 546.60,182.93 546.60,58.20 547.10,181.97 547.10,120.42 547.60,184.06 547.60,113.76 548.10,182.25 548.10,112.59 548.60,182.69 548.60,124.13 549.10,182.76 549.10,126.26 549.60,182.10 549.60,124.11 550.10,183.26 550.10,118.57 550.60,182.02 550.60,108.98 551.10,183.12 551.10,95.31 551.80,182.27 551.80,87.50 552.10,181.04 552.10,122.21 552.60,182.41 552.60,124.68 553.10,183.32 553.10,110.64 553.60,182.38 553.60,119.79 554.10,183.28 554.10,126.70 554.60,183.17 554.60,124.74 555.10,183.81 555.10,119.64 555.60,183.01 555.60,109.73 556.10,182.46 556.10,114.14 556.60,182.12 556.60,125.50 557.10,182.44 557.10,112.26 557.60,182.39 557.60,121.76 558.10,183.46 558.10,119.66 558.60,183.86 558.60,125.61 559.10,182.34 559.10,124.42 559.80,181.72 559.80,76.20 560.10,183.94 560.10,86.27 560.60,181.41 560.60,107.62 561.10,182.96 561.10,113.92 561.60,182.52 561.60,119.19 562.10,181.97 562.10,124.53 562.60,182.41 562.60,125.49 563.10,183.90 563.10,92.71 563.60,181.78 563.60,124.76 564.10,183.39 564.10,124.47 564.60,181.94 564.60,125.22 565.10,182.32 565.10,118.73 565.60,182.12 565.60,108.12 566.10,182.58 566.10,125.00 566.60,181.45 566.60,124.41 567.10,183.39 567.10,121.76 567.60,181.90 567.60,125.84 568.10,183.34 568.10,111.18 568.60,181.62 568.60,97.16 569.10,180.93 569.10,118.16 569.60,183.27 569.60,124.28 570.10,181.64 570.10,104.65 570.60,182.74 570.60,123.36 571.10,183.18 571.10,126.08 571.60,182.12 571.60,106.28 572.10,183.32 572.10,119.82 572.60,183.07 572.60,121.59 573.10,182.10 573.10,115.41 573.60,182.06 573.60,105.01 574.10,182.18 574.10,107.24 574.60,182.71 574.60,82.20 575.10,184.24 575.10,124.20 575.60,183.96 575.60,115.23 576.10,183.86 576.10,97.36 576.60,183.49 576.60,124.40 577.10,182.00 577.10,123.90 577.60,182.47 577.60,106.23 578.10,183.86 578.10,118.97 578.60,180.98 578.60,125.62 579.10,182.17 579.10,125.46 579.60,182.62 579.60,117.17 580.10,184.31 580.10,115.76 580.60,183.06 580.60,119.27 581.10,183.18 581.10,103.98 581.60,183.92 581.60,104.17 582.10,183.48 582.10,103.47 582.60,183.42 582.60,122.16 583.10,182.34 583.10,111.76 583.60,183.03 583.60,118.50 584.10,181.78 584.10,113.19 584.60,181.36 584.60,117.02 585.10,182.66 585.10,101.58 585.60,181.36 585.60,93.08 586.10,183.31 586.10,65.10 586.60,184.65 586.60,112.16 587.10,181.48 587.10,98.76 587.40,183.12 587.40,80.40 588.10,182.31 588.10,124.15 588.60,182.44 588.60,102.01 589.10,180.19 589.10,119.52 589.60,182.91 589.60,111.11 590.10,182.07 590.10,117.09 590.60,182.67 590.60,89.25 591.10,183.74 591.10,91.32 591.60,182.93 591.60,126.87 592.10,182.38 592.10,125.20 592.60,181.65 592.60,116.06 593.10,182.13 593.10,118.58 593.60,181.76 593.60,107.56 594.10,183.19 594.10,124.04 594.60,182.40 594.60,114.05 595.10,181.85 595.10,126.28 595.60,182.85 595.60,123.78 596.10,182.22 596.10,124.57 596.60,184.87 596.60,126.51 597.10,184.52 597.10,107.21 597.50,184.07 597.50,53.30 598.10,182.86 598.10,104.68 598.60,182.12 598.60,103.48 599.30,182.35 599.30,81.80 599.60,183.83 599.60,94.10 600.10,182.23 600.10,118.28 600.60,181.59 600.60,125.26 601.10,183.38 601.10,115.19 601.60,182.28 601.60,126.29 602.10,184.02 602.10,125.79 602.60,181.84 602.60,95.58 603.10,181.69 603.10,119.54 603.60,181.84 603.60,113.01 604.10,183.24 604.10,99.80 604.60,183.74 604.60,126.45 605.10,184.29 605.10,107.35 605.80,182.76 605.80,86.80 606.10,182.03 606.10,120.68 606.60,181.51 606.60,126.42 607.10,182.97 607.10,121.39 607.60,183.70 607.60,112.85 608.10,182.44 608.10,114.86 608.60,182.47 608.60,102.22 609.10,180.94 609.10,126.54 609.60,181.29 609.60,126.89 610.10,182.82 610.10,105.71 610.60,184.40 610.60,92.13 611.10,184.32 611.10,107.29 611.60,182.33 611.60,111.36 612.10,184.06 612.10,125.70 612.60,182.90 612.60,125.72 613.10,182.88 613.10,124.82 613.60,182.90 613.60,93.47 614.20,184.16 614.20,85.60 614.60,183.02 614.60,122.37 615.10,182.56 615.10,120.83 615.60,183.90 615.60,126.80 616.10,183.73 616.10,94.87 616.50,184.60 616.50,86.80 617.10,183.66 617.10,123.48 617.60,181.93 617.60,126.19 618.10,182.06 618.10,121.57 618.60,183.55 618.60,109.28 619.10,182.66 619.10,119.34 619.60,182.81 619.60,123.55 620.10,182.50 620.10,98.70 620.60,181.15 620.60,110.34 621.10,184.60 621.10,107.35 621.60,182.53 621.60,100.10 622.10,183.26 622.10,115.90 622.60,183.58 622.60,102.75 623.30,183.04 623.30,77.30 623.60,184.27 623.60,101.23 624.10,183.39 624.10,121.59 624.60,182.51 624.60,87.99 625.10,182.49 625.10,122.55 625.60,183.78 625.60,104.33 626.10,182.23 626.10,91.71 626.60,183.06 626.60,126.03 627.10,182.60 627.10,105.66 627.60,180.88 627.60,126.11 628.10,183.00 628.10,125.21 628.60,183.68 628.60,125.51 629.10,182.49 629.10,101.03 629.60,182.35 629.60,114.82 630.10,183.49 630.10,98.06 630.50,183.89 630.50,89.50 631.10,183.73 631.10,124.88 631.60,183.38 631.60,120.38 632.10,182.69 632.10,115.00 632.60,183.40 632.60,110.92 633.10,181.66 633.10,124.63 633.60,182.24 633.60,115.79 634.10,184.27 634.10,120.38 634.60,182.85 634.60,101.21 635.10,180.12 635.10,105.71 635.60,183.50 635.60,95.01 636.10,182.59 636.10,122.47 636.60,182.80 636.60,118.15 637.10,182.87 637.10,101.33 637.60,180.51 637.60,125.27 638.10,183.24 638.10,107.78 638.60,181.39 638.60,113.53 639.10,184.19 639.10,101.98 639.60,182.04 639.60,108.00 640.10,182.46 640.10,124.85 640.60,183.57 640.60,110.73 641.10,184.40 641.10,102.70 641.60,182.44 641.60,116.21 642.10,182.93 642.10,110.13 642.60,182.39 642.60,125.70 643.10,182.04 643.10,99.37 643.60,183.86 643.60,126.71 644.10,181.69 644.10,95.02 644.60,182.07 644.60,125.59 645.10,183.05 645.10,121.36 645.60,182.71 645.60,105.23 646.10,185.05 646.10,115.78 646.60,181.99 646.60,108.70 647.10,182.27 647.10,107.38 647.60,183.22 647.60,104.72 648.10,182.77 648.10,111.81 648.60,182.86 648.60,126.88 649.10,183.89 649.10,126.97 649.60,184.22 649.60,125.99 650.10,183.60 650.10,98.11 650.60,180.47 650.60,108.84 651.10,181.99 651.10,125.61 651.60,181.25 651.60,95.07 652.10,184.12 652.10,122.78 652.60,183.72 652.60,109.03 653.10,183.06 653.10,126.71 653.60,183.48 653.60,88.53 654.10,182.88 654.10,124.41 654.60,182.54 654.60,110.96 655.10,181.49 655.10,101.05 655.60,182.69 655.60,86.30 656.10,182.83 656.10,124.75 656.60,182.77 656.60,117.32 657.10,183.84 657.10,103.78 657.60,182.81 657.60,114.38 658.10,183.58 658.10,125.82 658.40,184.12 658.40,91.00 659.10,183.72 659.10,118.71 659.60,182.34 659.60,100.93 660.10,182.51 660.10,103.44 660.60,182.73 660.60,123.85 661.10,184.09 661.10,122.42 661.60,184.47 661.60,104.43 662.10,182.54 662.10,96.72 662.60,182.50 662.60,97.34 663.10,182.98 663.10,119.87 663.60,184.29 663.60,116.35 664.10,183.48 664.10,108.13 664.60,181.94 664.60,104.99 665.10,182.94 665.10,119.99 665.60,183.46 665.60,122.32 666.30,183.20 666.30,80.70 666.60,183.57 666.60,119.07 667.10,181.87 667.10,104.76 667.60,181.79 667.60,95.69 668.10,182.45 668.10,122.93 668.60,183.13 668.60,113.40 669.10,182.77 669.10,122.66 669.60,183.32 669.60,94.80 670.10,183.57 670.10,124.46 670.60,182.41 670.60,110.75 671.10,180.83 671.10,124.88 671.60,183.28 671.60,125.18 672.10,181.75 672.10,116.27 672.60,183.34 672.60,88.44" fill="none" stroke="#0000ff" stroke-width="1.0" stroke-linejoin="round" stroke-linecap="butt"/>
<path d="M436.60,45.43 436.60,35.55 437.10,45.44 437.10,41.02 437.60,46.48 437.60,38.79 438.10,45.90 438.10,41.05 438.60,46.14 438.60,37.85 439.10,45.72 439.10,38.95 439.60,45.88 439.60,9.30 440.10,46.19 440.10,39.31 440.60,44.88 440.60,36.63 441.10,46.34 441.10,31.01 441.40,46.21 441.40,29.29 442.10,46.04 442.10,38.04 442.60,45.55 442.60,37.54 443.10,45.65 443.10,38.33 443.60,45.68 443.60,39.67 444.00,45.63 444.00,24.70 444.60,45.89 444.60,40.50 445.10,46.53 445.10,40.57 445.60,45.74 445.60,38.85 446.10,45.42 446.10,41.18 446.60,45.77 446.60,41.06 447.10,45.45 447.10,33.86 447.80,45.50 447.80,25.46 448.10,45.18 448.10,41.14 448.60,45.76 448.60,40.94 449.30,45.72 449.30,29.60 449.60,45.93 449.60,41.02 450.10,45.84 450.10,40.49 450.60,45.21 450.60,31.65 451.10,46.17 451.10,31.47 451.60,45.43 451.60,41.22 452.10,44.76 452.10,40.56 452.60,46.00 452.60,37.61 453.10,45.24 453.10,34.97 453.50,46.35 453.50,31.69 454.10,45.30 454.10,37.38 454.60,46.11 454.60,40.92 455.10,46.20 455.10,38.73 455.60,44.76 455.60,36.04 456.10,44.90 456.10,41.14 456.60,45.88 456.60,40.95 457.10,45.43 457.10,36.31 457.60,46.17 457.60,41.12 458.10,45.38 458.10,40.41 458.60,45.67 458.60,40.93 459.10,45.92 459.10,40.60 459.60,45.73 459.60,41.12 460.10,45.55 460.10,40.94 460.60,45.45 460.60,41.03 461.10,44.83 461.10,36.84 461.60,45.62 461.60,40.67 462.10,45.43 462.10,39.99 462.60,45.38 462.60,40.82 463.10,45.43 463.10,39.40 463.60,45.46 463.60,41.10 464.10,45.64 464.10,40.14 464.60,45.59 464.60,37.81 465.10,46.31 465.10,37.39 465.60,46.11 465.60,35.80 465.90,45.55 465.90,27.70 466.60,46.20 466.60,33.89 467.00,45.65 467.00,30.33 467.60,45.87 467.60,35.89 468.10,46.14 468.10,39.74 468.70,46.03 468.70,28.33 469.10,46.00 469.10,40.04 469.40,45.18 469.40,30.78 470.10,45.42 470.10,31.21 470.60,46.38 470.60,41.03 471.10,45.84 471.10,39.60 471.60,45.37 471.60,40.19 472.10,46.01 472.10,40.59 472.60,46.23 472.60,41.03 473.10,46.10 473.10,38.94 473.70,45.73 473.70,26.22 474.10,45.45 474.10,41.23 474.60,45.52 474.60,34.32 475.10,47.00 475.10,40.50 475.60,46.44 475.60,40.50 476.10,45.84 476.10,32.36 476.60,45.35 476.60,40.41 477.10,45.87 477.10,40.64 477.60,45.97 477.60,41.19 478.10,45.90 478.10,38.62 478.60,45.51 478.60,41.27 479.10,46.04 479.10,39.86 479.60,46.24 479.60,39.70 480.10,45.11 480.10,41.13 480.60,45.21 480.60,32.64 481.10,44.96 481.10,40.75 481.60,45.19 481.60,40.46 482.10,45.01 482.10,38.68 482.60,45.58 482.60,41.07 483.10,45.67 483.10,38.88 483.60,45.11 483.60,39.64 484.10,45.72 484.10,39.96 484.60,45.50 484.60,40.91 485.10,44.81 485.10,37.06 485.60,45.43 485.60,39.38 486.10,45.85 486.10,39.28 486.60,45.33 486.60,40.13 487.10,46.06 487.10,41.01 487.40,45.96 487.40,16.00 488.10,44.85 488.10,41.01 488.80,45.70 488.80,28.56 489.10,46.05 489.10,39.82 489.60,46.17 489.60,37.91 490.10,45.61 490.10,39.84 490.60,45.51 490.60,41.26 491.10,44.98 491.10,40.55 491.60,45.62 491.60,40.95 492.10,46.14 492.10,38.62 492.60,45.71 492.60,38.52 493.10,45.49 493.10,38.29 493.60,45.33 493.60,40.32 494.10,45.31 494.10,40.49 494.60,45.64 494.60,40.94 495.10,45.29 495.10,32.97 495.60,46.17 495.60,40.76 496.10,46.58 496.10,41.11 496.60,45.21 496.60,40.08 497.10,45.95 497.10,33.48 497.60,46.04 497.60,38.31 498.00,45.28 498.00,23.69 498.60,45.58 498.60,36.71 499.10,45.93 499.10,41.17 499.60,45.69 499.60,40.41 500.10,45.54 500.10,40.56 500.60,46.05 500.60,21.50 501.10,45.59 501.10,41.15 501.60,45.68 501.60,40.42 502.10,45.28 502.10,40.44 502.60,44.46 502.60,40.47 503.10,45.40 503.10,40.68 503.60,46.01 503.60,40.36 504.10,45.66 504.10,40.63 504.60,45.96 504.60,37.09 505.10,45.25 505.10,40.59 505.40,46.84 505.40,22.60 506.10,45.60 506.10,40.88 506.60,46.12 506.60,34.97 507.10,46.35 507.10,36.55 507.60,45.71 507.60,32.81 508.20,45.20 508.20,26.22 508.60,45.44 508.60,41.16 509.10,45.71 509.10,40.56 509.60,46.35 509.60,38.89 510.10,45.40 510.10,41.00 510.60,45.49 510.60,40.94 511.00,45.88 511.00,26.98 511.60,45.49 511.60,37.72 512.10,45.86 512.10,38.33 512.60,45.58 512.60,39.28 513.10,45.17 513.10,38.53 513.60,45.73 513.60,39.34 514.10,45.31 514.10,40.51 514.60,45.29 514.60,41.19 515.10,46.01 515.10,33.74 515.60,46.27 515.60,40.22 516.10,45.49 516.10,32.93 516.40,45.84 516.40,30.75 517.10,46.02 517.10,40.98 517.60,45.13 517.60,40.27 518.10,45.93 518.10,41.16 518.60,45.83 518.60,39.46 519.10,45.33 519.10,31.61 519.60,46.58 519.60,39.03 520.10,45.35 520.10,40.34 520.60,45.01 520.60,41.20 521.10,45.73 521.10,41.27 521.60,46.15 521.60,39.64 522.10,45.39 522.10,39.21 522.60,46.56 522.60,34.99 523.10,45.78 523.10,40.52 523.60,45.98 523.60,37.08 524.10,45.92 524.10,36.02 524.60,45.63 524.60,31.68 525.10,45.62 525.10,31.12 525.60,45.61 525.60,40.64 526.10,45.79 526.10,35.48 526.60,46.29 526.60,41.24 527.10,45.97 527.10,34.64 527.60,46.04 527.60,41.08 528.10,45.82 528.10,35.62 528.60,45.35 528.60,31.80 529.10,46.28 529.10,40.75 529.60,45.90 529.60,37.50 530.10,45.50 530.10,40.79 530.50,46.00 530.50,30.24 531.10,45.45 531.10,33.50 531.60,46.28 531.60,40.92 532.10,46.49 532.10,40.73 532.60,46.77 532.60,41.06 533.10,45.69 533.10,40.78 533.60,45.77 533.60,34.54 534.10,45.36 534.10,40.47 534.60,45.35 534.60,40.72 535.10,45.95 535.10,39.55 535.60,45.50 535.60,41.19 536.10,45.53 536.10,37.66 536.60,45.65 536.60,41.24 537.10,46.47 537.10,40.74 537.60,46.14 537.60,31.46 538.10,45.54 538.10,31.64 538.60,45.82 538.60,40.54 539.10,46.49 539.10,40.99 539.60,46.30 539.60,34.42 540.10,46.07 540.10,38.45 540.60,46.11 540.60,40.78 541.10,45.86 541.10,36.28 541.60,46.00 541.60,41.07 542.10,46.21 542.10,39.71 542.60,46.15 542.60,33.93 543.10,45.28 543.10,38.89 543.60,45.10 543.60,40.26 544.10,45.97 544.10,39.40 544.60,45.83 544.60,40.62 545.10,45.34 545.10,35.90 545.60,46.04 545.60,40.96 546.10,45.38 546.10,38.85 546.60,45.36 546.60,21.00 547.10,45.49 547.10,40.48 547.60,46.36 547.60,39.25 548.10,44.99 548.10,39.02 548.60,45.73 548.60,40.94 549.10,45.95 549.10,41.21 549.60,46.12 549.60,40.94 550.10,45.79 550.10,40.21 550.60,45.48 550.60,38.19 551.10,45.21 551.10,33.95 551.80,45.36 551.80,31.36 552.10,45.97 552.10,40.70 552.60,45.72 552.60,41.01 553.10,45.03 553.10,38.63 553.60,45.83 553.60,40.40 554.10,45.21 554.10,41.26 554.60,45.80 554.60,41.02 555.10,46.21 555.10,40.38 555.60,46.67 555.60,38.42 556.10,45.51 556.10,39.33 556.60,45.28 556.60,41.11 557.10,44.85 557.10,38.95 557.60,45.89 557.60,40.65 558.10,45.54 558.10,40.38 558.60,45.41 558.60,41.13 559.10,44.86 559.10,40.98 559.80,45.34 559.80,27.76 560.10,45.93 560.10,30.96 560.60,45.93 560.60,37.79 561.10,45.60 561.10,39.28 561.60,45.57 561.60,40.32 562.10,44.92 562.10,40.99 562.60,46.26 562.60,41.11 563.10,45.58 563.10,33.09 563.60,45.61 563.60,41.02 564.10,45.85 564.10,40.98 564.60,45.86 564.60,41.08 565.10,45.93 565.10,40.25 565.60,45.05 565.60,37.94 566.10,46.03 566.10,41.05 566.60,45.65 566.60,40.98 567.10,45.54 567.10,40.64 567.60,46.59 567.60,41.16 568.10,46.15 568.10,38.74 568.60,46.42 568.60,34.56 569.10,45.47 569.10,40.13 569.60,46.28 569.60,40.96 570.10,45.41 570.10,36.90 570.60,44.86 570.60,40.84 571.10,45.95 571.10,41.19 571.60,45.94 571.60,37.38 572.10,45.84 572.10,40.40 572.60,46.36 572.60,40.62 573.10,45.77 573.10,39.58 573.60,46.15 573.60,37.00 574.10,45.91 574.10,37.67 574.60,45.73 574.60,29.67 575.10,45.66 575.10,40.95 575.60,46.06 575.60,39.55 576.10,45.63 576.10,34.63 576.60,46.03 576.60,40.98 577.10,45.82 577.10,40.91 577.60,45.68 577.60,37.37 578.10,45.39 578.10,40.29 578.60,44.94 578.60,41.13 579.10,45.42 579.10,41.11 579.60,45.95 579.60,39.93 580.10,45.83 580.10,39.65 580.60,45.38 580.60,40.33 581.10,46.29 581.10,36.69 581.60,44.85 581.60,36.75 582.10,46.39 582.10,36.54 582.60,45.05 582.60,40.69 583.10,45.95 583.10,38.85 583.60,45.35 583.60,40.20 584.10,46.12 584.10,39.14 584.60,46.32 584.60,39.90 585.10,45.83 585.10,35.97 585.60,45.44 585.60,33.21 586.10,45.06 586.10,19.80 586.60,45.09 586.60,38.93 587.10,45.72 587.10,35.09 587.40,46.02 587.40,29.10 588.10,45.61 588.10,40.94 588.60,45.45 588.60,36.10 589.10,46.12 589.10,40.36 589.60,45.77 589.60,38.72 590.10,45.81 590.10,39.92 590.60,45.67 590.60,31.94 591.10,44.96 591.10,32.63 591.60,45.24 591.60,41.28 592.10,46.35 592.10,41.08 592.60,45.66 592.60,39.71 593.10,46.11 593.10,40.22 593.60,44.97 593.60,37.77 594.10,45.55 594.10,40.93 594.60,46.17 594.60,39.31 595.10,45.54 595.10,41.21 595.60,45.88 595.60,40.90 596.10,46.15 596.10,41.00 596.60,45.52 596.60,41.24 597.10,44.79 597.10,37.66 597.50,45.55 597.50,20.50 598.10,45.55 598.10,36.91 598.60,45.15 598.60,36.54 599.30,46.26 599.30,29.54 599.60,45.55 599.60,33.55 600.10,45.40 600.10,40.16 600.60,46.48 600.60,41.08 601.10,45.75 601.10,39.54 601.60,45.26 601.60,41.21 602.10,46.04 602.10,41.15 602.60,46.13 602.60,34.04 603.10,45.98 603.10,40.37 603.60,45.52 603.60,39.10 604.10,45.89 604.10,35.44 604.60,45.34 604.60,41.23 605.10,46.28 605.10,37.71 605.80,45.90 605.80,31.13 606.10,45.63 606.10,40.51 606.60,45.74 606.60,41.23 607.10,46.28 607.10,40.60 607.60,46.05 607.60,39.07 608.10,45.60 608.10,39.47 608.60,45.80 608.60,36.17 609.10,46.03 609.10,41.24 609.60,45.48 609.60,41.29 610.10,45.48 610.10,37.21 610.60,45.66 610.60,32.90 611.10,46.21 611.10,37.69 611.60,45.87 611.60,38.77 612.10,45.56 612.10,41.14 612.60,45.46 612.60,41.14 613.10,45.55 613.10,41.03 613.60,46.13 613.60,33.34 614.20,45.76 614.20,30.75 614.60,46.07 614.60,40.72 615.10,45.24 615.10,40.53 615.60,45.30 615.60,41.28 616.10,45.28 616.10,33.80 616.50,45.25 616.50,31.13 617.10,46.35 617.10,40.86 617.60,46.34 617.60,41.20 618.10,44.94 618.10,40.62 618.60,46.00 618.60,38.28 619.10,44.61 619.10,40.34 619.60,45.57 619.60,40.87 620.10,45.57 620.10,35.07 620.60,45.46 620.60,38.57 621.10,46.37 621.10,37.70 621.60,45.39 621.60,35.53 622.10,46.16 622.10,39.68 622.60,45.19 622.60,36.32 623.30,45.76 623.30,28.11 623.60,46.22 623.60,35.87 624.10,46.23 624.10,40.62 624.60,46.36 624.60,31.53 625.10,45.87 625.10,40.74 625.60,45.31 625.60,36.80 626.10,44.94 626.10,32.76 626.60,45.68 626.60,41.18 627.10,45.92 627.10,37.20 627.60,45.69 627.60,41.19 628.10,45.59 628.10,41.08 628.60,46.46 628.60,41.11 629.10,45.29 629.10,35.81 629.60,45.74 629.60,39.46 630.10,45.33 630.10,34.86 630.50,45.26 630.50,32.03 631.10,45.88 631.10,41.04 631.60,46.63 631.60,40.47 632.10,45.63 632.10,39.50 632.60,46.07 632.60,38.68 633.10,45.82 633.10,41.00 633.60,45.97 633.60,39.66 634.10,45.72 634.10,40.47 634.60,45.78 634.60,35.86 635.10,46.03 635.10,37.21 635.60,45.77 635.60,33.85 636.10,45.38 636.10,40.73 636.60,46.22 636.60,40.13 637.10,46.28 637.10,35.90 637.60,45.50 637.60,41.08 638.10,45.69 638.10,37.83 638.60,45.41 638.60,39.21 639.10,45.14 639.10,36.09 639.60,45.23 639.60,37.90 640.10,45.98 640.10,41.03 640.60,44.82 640.60,38.65 641.10,45.44 641.10,36.31 641.60,46.42 641.60,39.74 642.10,45.16 642.10,38.53 642.60,45.39 642.60,41.14 643.10,45.56 643.10,35.29 643.60,45.85 643.60,41.26 644.10,46.90 644.10,33.85 644.60,45.75 644.60,41.12 645.10,46.03 645.10,40.59 645.60,45.90 645.60,37.07 646.10,45.74 646.10,39.66 646.60,45.84 646.60,38.11 647.10,45.54 647.10,37.71 647.60,45.85 647.60,36.92 648.10,46.07 648.10,38.86 648.60,45.14 648.60,41.28 649.10,45.54 649.10,41.30 649.60,45.42 649.60,41.17 650.10,45.84 650.10,34.87 650.60,45.05 650.60,38.15 651.10,46.31 651.10,41.13 651.60,46.09 651.60,33.87 652.10,45.91 652.10,40.77 652.60,45.49 652.60,38.21 653.10,45.80 653.10,41.26 653.60,46.01 653.60,31.71 654.10,45.40 654.10,40.98 654.60,45.88 654.60,38.69 655.10,45.16 655.10,35.82 655.60,45.46 655.60,30.97 656.10,44.55 656.10,41.02 656.60,45.59 656.60,39.96 657.10,44.84 657.10,36.63 657.60,45.91 657.60,39.38 658.10,46.22 658.10,41.15 658.40,45.25 658.40,27.70 659.10,45.56 659.10,40.24 659.60,46.36 659.60,35.78 660.10,45.33 660.10,36.53 660.60,45.33 660.60,40.91 661.10,45.86 661.10,40.73 661.60,45.88 661.60,36.83 662.10,46.15 662.10,34.41 662.60,45.50 662.60,34.62 663.10,45.72 663.10,40.41 663.60,45.44 663.60,39.77 664.10,45.69 664.10,37.94 664.60,45.23 664.60,37.00 665.10,45.88 665.10,40.42 665.60,45.91 665.60,40.72 666.30,45.51 666.30,27.00 666.60,45.27 666.60,40.31 667.10,45.56 667.10,36.93 667.60,45.48 667.60,34.07 668.10,45.46 668.10,40.79 668.60,45.35 668.60,39.18 669.10,44.96 669.10,40.76 669.60,45.32 669.60,33.78 670.10,44.47 670.10,40.98 670.60,45.81 670.60,38.65 671.10,45.54 671.10,41.03 671.60,45.74 671.60,41.07 672.10,45.80 672.10,39.75 672.60,45.28 672.60,31.67" fill="none" stroke="#ff0000" stroke-width="1.0" stroke-linejoin="round" stroke-linecap="butt"/>
<path d="M79.5,0.0 V194.55 M339.5,0.0 V194.55 M79.0,0.5 H340.0 M79.0,194.05 H340.0" stroke="#000" stroke-opacity="0.10" stroke-width="2.4" fill="none"/><path d="M79.5,0.0 V194.55 M339.5,0.0 V194.55 M79.0,0.5 H340.0 M79.0,194.05 H340.0" stroke="#444444" stroke-width="1" fill="none"/>
<path d="M424.5,1.5 V196.0 M684.5,1.5 V196.0 M424.0,2.0 H685.0 M424.0,195.5 H685.0" stroke="#000" stroke-opacity="0.10" stroke-width="2.4" fill="none"/><path d="M424.5,1.5 V196.0 M684.5,1.5 V196.0 M424.0,2.0 H685.0 M424.0,195.5 H685.0" stroke="#444444" stroke-width="1" fill="none"/>
<line x1="77.70" y1="190.11" x2="79.50" y2="190.11" stroke="#555" stroke-width="0.8"/><line x1="77.70" y1="186.06" x2="79.50" y2="186.06" stroke="#555" stroke-width="0.8"/><line x1="76.70" y1="182.50" x2="79.50" y2="182.50" stroke="#444444" stroke-width="1"/><line x1="77.70" y1="158.67" x2="79.50" y2="158.67" stroke="#555" stroke-width="0.8"/><line x1="77.70" y1="144.76" x2="79.50" y2="144.76" stroke="#555" stroke-width="0.8"/><line x1="77.70" y1="134.89" x2="79.50" y2="134.89" stroke="#555" stroke-width="0.8"/><line x1="77.70" y1="127.23" x2="79.50" y2="127.23" stroke="#555" stroke-width="0.8"/><line x1="77.70" y1="120.98" x2="79.50" y2="120.98" stroke="#555" stroke-width="0.8"/><line x1="77.70" y1="115.69" x2="79.50" y2="115.69" stroke="#555" stroke-width="0.8"/><line x1="77.70" y1="111.11" x2="79.50" y2="111.11" stroke="#555" stroke-width="0.8"/><line x1="77.70" y1="107.06" x2="79.50" y2="107.06" stroke="#555" stroke-width="0.8"/><line x1="76.70" y1="103.50" x2="79.50" y2="103.50" stroke="#444444" stroke-width="1"/><line x1="77.70" y1="79.67" x2="79.50" y2="79.67" stroke="#555" stroke-width="0.8"/><line x1="77.70" y1="65.76" x2="79.50" y2="65.76" stroke="#555" stroke-width="0.8"/><line x1="77.70" y1="55.89" x2="79.50" y2="55.89" stroke="#555" stroke-width="0.8"/><line x1="77.70" y1="48.23" x2="79.50" y2="48.23" stroke="#555" stroke-width="0.8"/><line x1="77.70" y1="41.98" x2="79.50" y2="41.98" stroke="#555" stroke-width="0.8"/><line x1="77.70" y1="36.69" x2="79.50" y2="36.69" stroke="#555" stroke-width="0.8"/><line x1="77.70" y1="32.11" x2="79.50" y2="32.11" stroke="#555" stroke-width="0.8"/><line x1="77.70" y1="28.06" x2="79.50" y2="28.06" stroke="#555" stroke-width="0.8"/><line x1="76.70" y1="24.50" x2="79.50" y2="24.50" stroke="#444444" stroke-width="1"/>
<line x1="422.70" y1="194.80" x2="424.50" y2="194.80" stroke="#555" stroke-width="0.8"/><line x1="422.70" y1="181.08" x2="424.50" y2="181.08" stroke="#555" stroke-width="0.8"/><line x1="422.70" y1="169.86" x2="424.50" y2="169.86" stroke="#555" stroke-width="0.8"/><line x1="422.70" y1="160.38" x2="424.50" y2="160.38" stroke="#555" stroke-width="0.8"/><line x1="422.70" y1="152.17" x2="424.50" y2="152.17" stroke="#555" stroke-width="0.8"/><line x1="422.70" y1="144.93" x2="424.50" y2="144.93" stroke="#555" stroke-width="0.8"/><line x1="421.70" y1="138.50" x2="424.50" y2="138.50" stroke="#444444" stroke-width="1"/><line x1="422.70" y1="95.82" x2="424.50" y2="95.82" stroke="#555" stroke-width="0.8"/><line x1="422.70" y1="70.89" x2="424.50" y2="70.89" stroke="#555" stroke-width="0.8"/><line x1="422.70" y1="53.20" x2="424.50" y2="53.20" stroke="#555" stroke-width="0.8"/><line x1="422.70" y1="39.48" x2="424.50" y2="39.48" stroke="#555" stroke-width="0.8"/><line x1="422.70" y1="28.26" x2="424.50" y2="28.26" stroke="#555" stroke-width="0.8"/><line x1="422.70" y1="18.78" x2="424.50" y2="18.78" stroke="#555" stroke-width="0.8"/><line x1="422.70" y1="10.57" x2="424.50" y2="10.57" stroke="#555" stroke-width="0.8"/><line x1="422.70" y1="3.33" x2="424.50" y2="3.33" stroke="#555" stroke-width="0.8"/>
<g stroke="#444444" stroke-width="1"><line x1="83.55" y1="194.05" x2="83.55" y2="196.95"/><line x1="177.45" y1="194.05" x2="177.45" y2="196.95"/><line x1="271.00" y1="194.05" x2="271.00" y2="196.95"/></g>
<g stroke="#444444" stroke-width="1"><line x1="507.50" y1="195.5" x2="507.50" y2="198.40"/><line x1="601.40" y1="195.5" x2="601.40" y2="198.40"/></g>
<text transform="translate(32.96,32.90) scale(0.2046,0.2455)" font-size="100" font-family="Liberation Serif, serif" fill="#111">10</text><line x1="55.80" y1="19.70" x2="65.20" y2="19.70" stroke="#000" stroke-width="0.9"/><text transform="translate(66.70,24.00) scale(0.1590,0.1600)" font-size="100" font-family="Liberation Serif, serif" fill="#111">2</text>
<text transform="translate(32.96,111.80) scale(0.2046,0.2455)" font-size="100" font-family="Liberation Serif, serif" fill="#111">10</text><line x1="55.80" y1="98.60" x2="65.20" y2="98.60" stroke="#000" stroke-width="0.9"/><text transform="translate(66.30,102.90) scale(0.1590,0.1600)" font-size="100" font-family="Liberation Serif, serif" fill="#111">3</text>
<text transform="translate(32.96,190.70) scale(0.2046,0.2455)" font-size="100" font-family="Liberation Serif, serif" fill="#111">10</text><line x1="55.80" y1="177.50" x2="65.20" y2="177.50" stroke="#000" stroke-width="0.9"/><text transform="translate(66.30,181.80) scale(0.1590,0.1600)" font-size="100" font-family="Liberation Serif, serif" fill="#111">4</text>
<text transform="translate(377.96,147.00) scale(0.2046,0.2455)" font-size="100" font-family="Liberation Serif, serif" fill="#111">10</text><line x1="400.80" y1="133.80" x2="410.20" y2="133.80" stroke="#000" stroke-width="0.9"/><text transform="translate(411.30,138.10) scale(0.1590,0.1600)" font-size="100" font-family="Liberation Serif, serif" fill="#111">4</text>
<text transform="translate(78.40,215.52) scale(0.2238,0.2403)" font-size="100" font-family="Liberation Serif, serif" fill="#111">0</text>
<text transform="translate(150.85,215.52) scale(0.2136,0.2403)" font-size="100" font-family="Liberation Serif, serif" fill="#111">25000</text>
<text transform="translate(243.69,215.52) scale(0.2179,0.2403)" font-size="100" font-family="Liberation Serif, serif" fill="#111">50000</text>
<text transform="translate(475.37,216.72) scale(0.2150,0.2403)" font-size="100" font-family="Liberation Serif, serif" fill="#111">400000</text>
<text transform="translate(569.27,216.72) scale(0.2139,0.2403)" font-size="100" font-family="Liberation Serif, serif" fill="#111">425000</text>
<text transform="translate(171.32,247.70) scale(0.2586,0.2431)" font-size="100" font-family="Liberation Serif, serif" fill="#111">Epoch</text>
<text transform="translate(530.02,246.70) scale(0.2610,0.2477)" font-size="100" font-family="Liberation Serif, serif" fill="#111">Epoch</text>
<text transform="translate(188.27,284.36) scale(0.2330,0.2354)" font-size="100" font-family="Liberation Serif, serif" fill="#111">(a)</text>
<text transform="translate(550.27,284.38) scale(0.2324,0.2171)" font-size="100" font-family="Liberation Serif, serif" fill="#111">(b)</text>
<text transform="translate(17.80,174.24) rotate(-90) scale(0.2451,0.2477)" font-size="100" font-family="Liberation Serif, serif" fill="#111">Loss</text>
<text transform="translate(17.80,117.06) rotate(-90) scale(0.2547,0.2477)" font-size="100" font-family="Liberation Serif, serif" fill="#111">function</text>
<text transform="translate(367.30,174.73) rotate(-90) scale(0.2445,0.2554)" font-size="100" font-family="Liberation Serif, serif" fill="#111">Loss</text>
<text transform="translate(367.30,117.57) rotate(-90) scale(0.2553,0.2554)" font-size="100" font-family="Liberation Serif, serif" fill="#111">function</text>
</svg></body></html>
